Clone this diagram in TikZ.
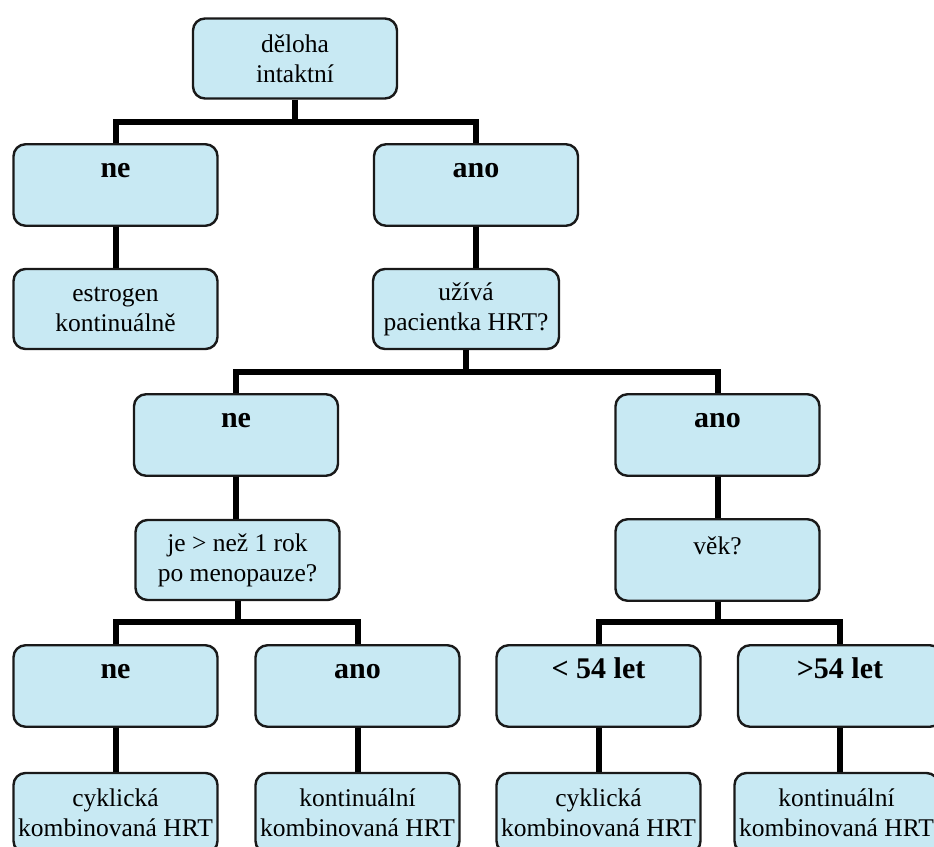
\documentclass[tikz,border=0pt]{standalone}
\usepackage{fontspec}
\setmainfont{Liberation Serif}
\definecolor{boxblue}{RGB}{200,233,243}

\begin{document}
\begin{tikzpicture}[x=1pt, y=-1pt,
        box/.style={draw=black!90, line width=2.4pt, fill=boxblue, rounded corners=12pt,
            minimum width=204pt, inner sep=3pt, align=center,
            font=\fontsize{25.5}{30}\selectfont},
        twoline/.style={box, minimum height=80pt},
        answer/.style={box, inner sep=0pt, text height=33pt, text depth=48.5pt,
            font=\fontsize{30}{34}\selectfont\bfseries},
        question/.style={box, inner sep=0pt, text height=35pt, text depth=46.5pt},
        link/.style={line width=6pt, black}]
    \useasboundingbox (0,0) rectangle (934,846);
    \clip (0,0) rectangle (934,846);

    \node[twoline] (uterus) at (295,58.5) {děloha\\intaktní};
    \node[answer] (no1) at (115.5,185) {ne};
    \node[answer] (yes1) at (476,185) {ano};
    \node[twoline] (estrogen) at (115.5,309) {estrogen\\kontinuálně};
    \node[twoline, minimum width=186pt] (hrt) at (466,309) {užívá\\pacientka HRT?};
    \node[answer] (no2) at (236,435) {ne};
    \node[answer] (yes2) at (717.5,435) {ano};
    \node[twoline] (meno) at (237.5,560) {je > než 1 rok\\po menopauze?};
    \node[question] (age) at (717.5,560) {věk?};
    \node[answer] (no3) at (115.5,686) {ne};
    \node[answer] (yes3) at (357.5,686) {ano};
    \node[answer] (young) at (598.5,686) {< 54 let};
    \node[answer] (old) at (840,686) {>54 let};
    \node[twoline] (cyclic1) at (115.5,813) {cyklická\\kombinovaná HRT};
    \node[twoline] (contin1) at (357.5,813) {kontinuální\\kombinovaná HRT};
    \node[twoline] (cyclic2) at (598.5,813) {cyklická\\kombinovaná HRT};
    \node[twoline, inner sep=1pt] (contin2) at (836.5,813) {kontinuální\\kombinovaná HRT};

    \coordinate (j1) at (295,122);
    \coordinate (j2) at (466,372);
    \coordinate (j3) at (237.5,622);
    \coordinate (j4) at (717.5,622);

    \draw[link] (uterus) -- (j1);
    \draw[link] (no1.north) |- (j1) -| (yes1.north);
    \draw[link] (no1) -- (estrogen);
    \draw[link] (yes1.south) -- (yes1.south |- hrt.north);
    \draw[link] (hrt) -- (j2);
    \draw[link] (no2.north) |- (j2) -| (yes2.north);
    \draw[link] (no2.south) -- (no2.south |- meno.north);
    \draw[link] (yes2) -- (age);
    \draw[link] (meno) -- (j3);
    \draw[link] (no3.north) |- (j3) -| (yes3.north);
    \draw[link] (age) -- (j4);
    \draw[link] (young.north) |- (j4) -| (old.north);
    \draw[link] (no3) -- (cyclic1);
    \draw[link] (yes3) -- (contin1);
    \draw[link] (young) -- (cyclic2);
    \draw[link] (old.south) -- (old.south |- contin2.north);
\end{tikzpicture}
\end{document}
